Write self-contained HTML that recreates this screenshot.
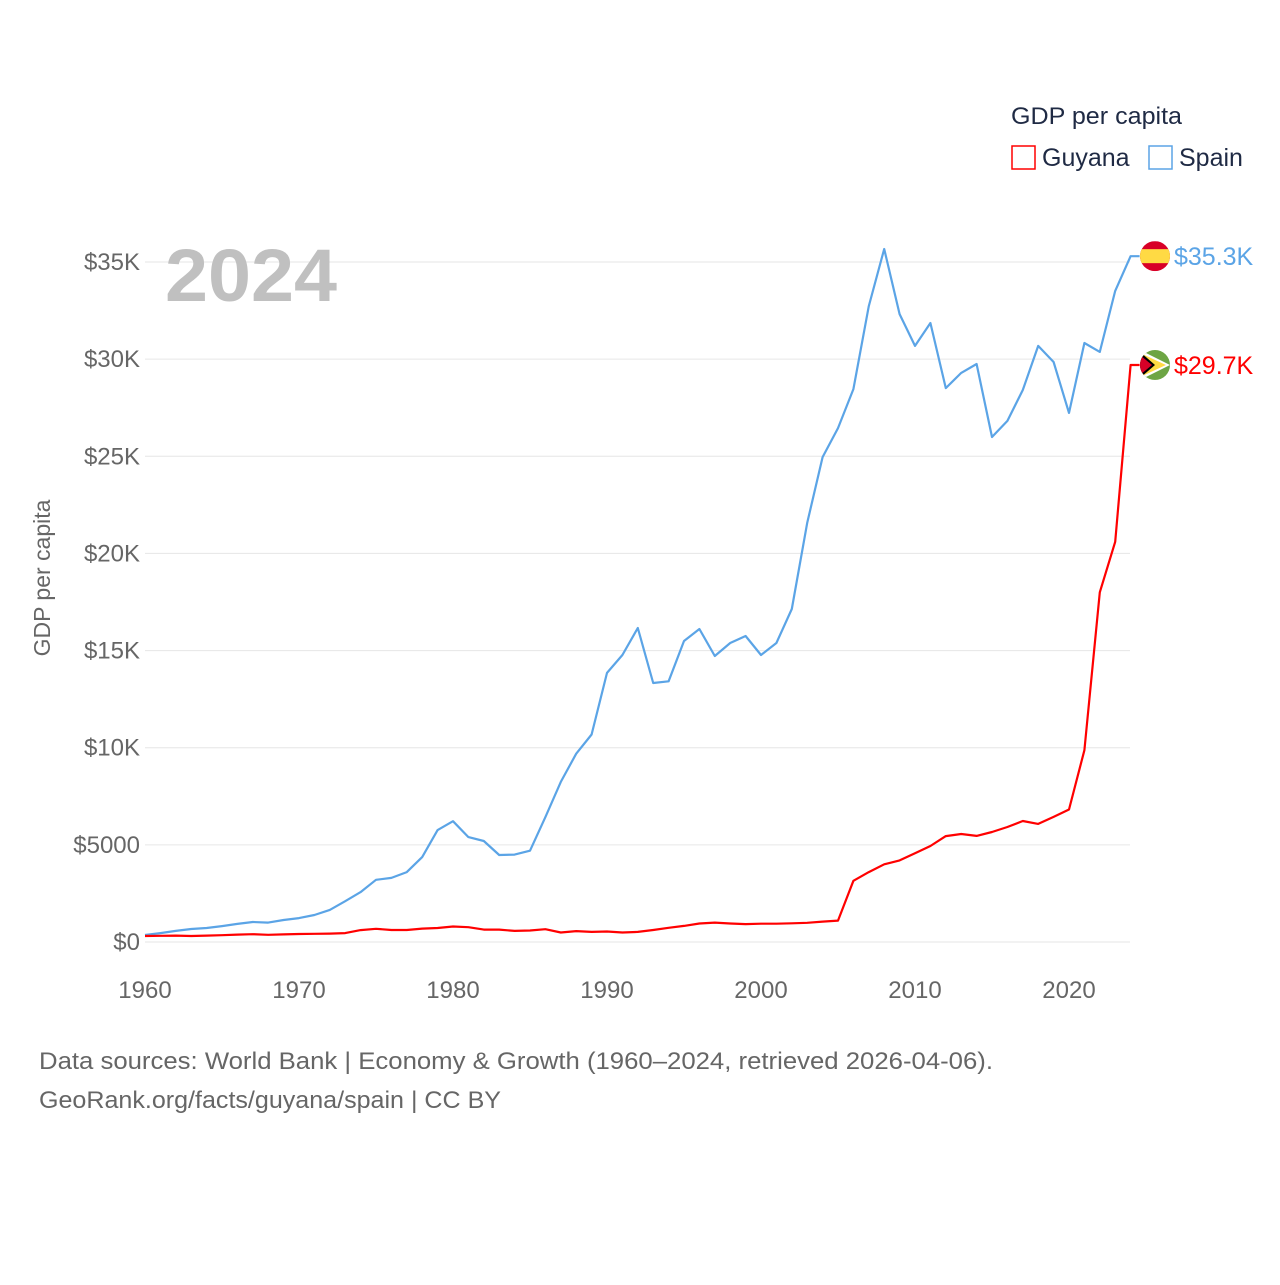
<!DOCTYPE html>
<html><head><meta charset="utf-8"><style>
body{margin:0;background:#fff;font-family:"Liberation Sans",sans-serif;}
#wrap{position:relative;width:1280px;height:1280px;}
</style></head><body>
<div id="wrap">
<svg id="chart" width="1280" height="1280"></svg>
</div>
<script>
const years=[];for(let y=1960;y<=2024;y++)years.push(y);
const spain=[360,460,570,670,720,820,930,1030,1000,1130,1230,1390,1650,2100,2570,3200,3300,3600,4370,5760,6220,5400,5200,4480,4500,4700,6430,8240,9690,10680,13850,14770,16160,13330,13420,15490,16110,14720,15390,15750,14770,15390,17140,21570,24960,26450,28460,32730,35670,32320,30680,31860,28510,29290,29750,25990,26820,28410,30680,29850,27230,30830,30370,33510,35300];
const guyana=[310,320,330,310,330,350,380,400,370,390,410,420,430,460,610,680,620,620,690,720,800,760,640,640,570,590,660,490,560,520,540,490,520,620,730,830,950,1000,950,920,940,940,960,990,1050,1100,3150,3600,4000,4200,4570,4940,5450,5560,5460,5660,5920,6230,6080,6440,6820,9870,18000,20600,29700];
const yTicks=[0,5000,10000,15000,20000,25000,30000,35000];
const yTickLabels=["$0","$5000","$10K","$15K","$20K","$25K","$30K","$35K"];
const xTicks=[1960,1970,1980,1990,2000,2010,2020];
const NS="http://www.w3.org/2000/svg";
const svg=document.getElementById('chart');
const X=y=>145+(y-1960)*15.4;
const Y=v=>942-v*0.019429;
function mk(t,a,txt){const e=document.createElementNS(NS,t);for(const k in a)e.setAttribute(k,a[k]);if(txt!==undefined)e.textContent=txt;svg.appendChild(e);return e;}
yTicks.forEach((v,i)=>{
 const l=mk('line',{x1:145,x2:1130,y1:Y(v),y2:Y(v),stroke:'#e6e6e6','stroke-width':1});
 
 
 const t=mk('text',{x:140,y:Y(v)+8,'text-anchor':'end','font-size':24,fill:'#666'},yTickLabels[i]);
 
 
});
xTicks.forEach(v=>{
 const t=mk('text',{x:X(v),y:998,'text-anchor':'middle','font-size':24,fill:'#666'},String(v));
 
 
});
function line(data,color,name){
 let d=data.map((v,i)=>(i?'L':'M')+X(years[i]).toFixed(1)+','+Y(v).toFixed(1)).join(' ');
 d+=' L'+(X(2024)+9)+','+Y(data[data.length-1]).toFixed(1);
 const p=mk('path',{d:d,fill:'none',stroke:color,'stroke-width':2.2,'stroke-linejoin':'round'});
 
 
}
line(spain,'#5ba4e6','spain-line');
line(guyana,'#ff0000','guyana-line');
const yr=mk('text',{x:165,y:301,'font-size':74,'font-weight':'bold',fill:'#c0c0c0',textLength:172,lengthAdjust:'spacingAndGlyphs'},'2024');


const yt=mk('text',{x:0,y:0,'font-size':23,fill:'#666','text-anchor':'middle',transform:'translate(50,578) rotate(-90)'},'GDP per capita');


const sy=Y(spain[spain.length-1]), gy=Y(guyana[guyana.length-1]);
const defs=mk('defs',{});
defs.innerHTML='<clipPath id="c1"><circle cx="1155" cy="'+sy+'" r="15"/></clipPath><clipPath id="c2"><circle cx="1155" cy="'+gy+'" r="15"/></clipPath>';
const f1=mk('g',{'clip-path':'url(#c1)'});


f1.innerHTML='<rect x="1140" y="'+(sy-15)+'" width="30" height="30" fill="#d80027"/><rect x="1140" y="'+(sy-7)+'" width="30" height="14" fill="#ffda44"/>';
const f2=mk('g',{'clip-path':'url(#c2)'});


f2.innerHTML='<rect x="1140" y="'+(gy-15)+'" width="30" height="30" fill="#6da544"/><polygon points="1140,'+(gy-15)+' 1170,'+gy+' 1140,'+(gy+15)+'" fill="#fff"/><polygon points="1140,'+(gy-12)+' 1166,'+gy+' 1140,'+(gy+12)+'" fill="#ffda44"/><polygon points="1140,'+(gy-13)+' 1155,'+gy+' 1140,'+(gy+13)+'" fill="#000"/><polygon points="1140,'+(gy-10)+' 1152,'+gy+' 1140,'+(gy+10)+'" fill="#d80027"/>';
const v1=mk('text',{x:1174,y:sy+9,'font-size':25,fill:'#5ba4e6'},'$35.3K');


const v2=mk('text',{x:1174,y:gy+9,'font-size':25,fill:'#ff0000'},'$29.7K');


const lt=mk('text',{x:1011,y:124,'font-size':24,fill:'#1f2a44',textLength:171,lengthAdjust:'spacingAndGlyphs'},'GDP per capita');


const r1=mk('rect',{x:1012,y:146,width:23,height:23,fill:'none',stroke:'#ff0000','stroke-width':1.5});


const l1=mk('text',{x:1042,y:166,'font-size':25,fill:'#1f2a44'},'Guyana');


const r2=mk('rect',{x:1149,y:146,width:23,height:23,fill:'none',stroke:'#5ba4e6','stroke-width':1.5});


const l2=mk('text',{x:1179,y:166,'font-size':25,fill:'#1f2a44'},'Spain');


const s1=mk('text',{x:39,y:1069,'font-size':24,fill:'#666',textLength:954,lengthAdjust:'spacingAndGlyphs'},'Data sources: World Bank | Economy & Growth (1960–2024, retrieved 2026-04-06).');


const s2=mk('text',{x:39,y:1108,'font-size':24,fill:'#666',textLength:462,lengthAdjust:'spacingAndGlyphs'},'GeoRank.org/facts/guyana/spain | CC BY');


</script>
</body></html>
